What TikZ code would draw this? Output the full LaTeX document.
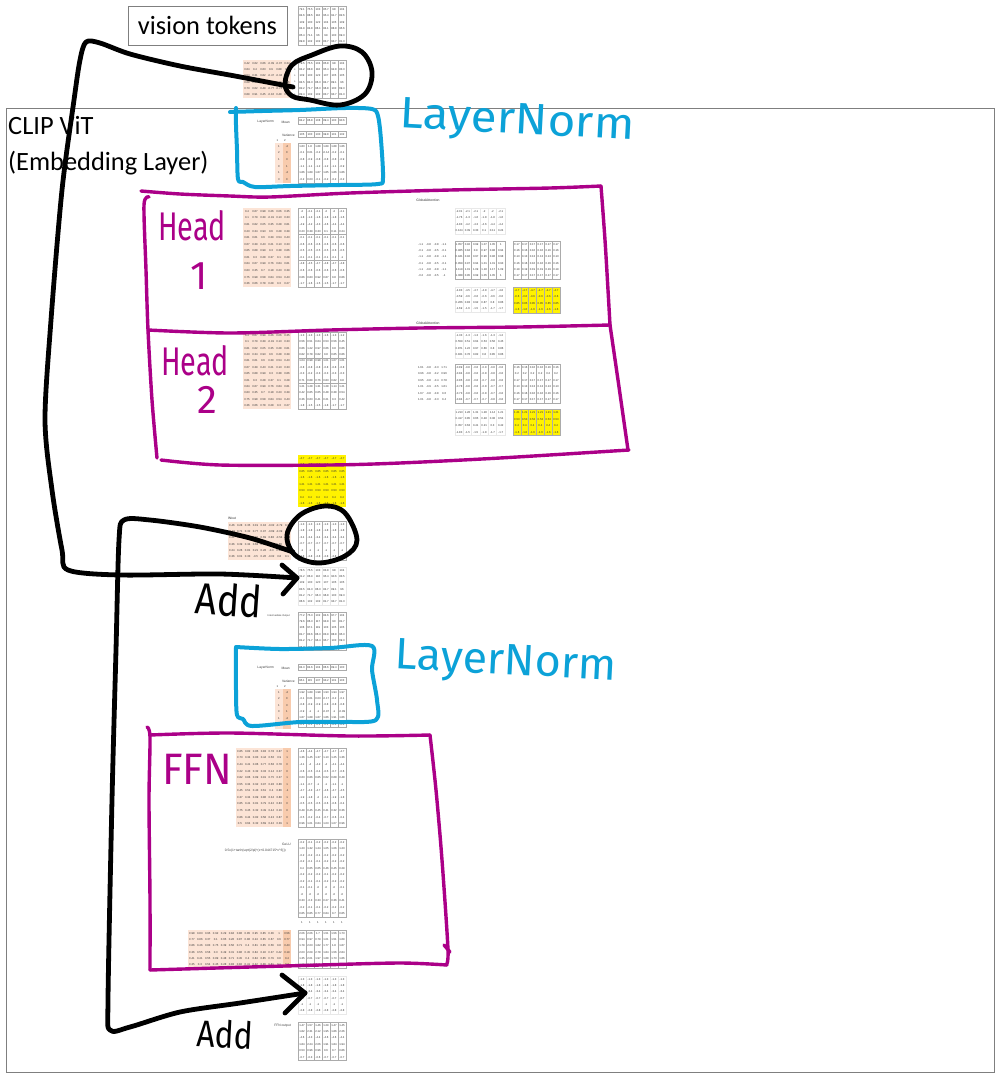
\documentclass[tikz,border=0pt]{standalone}
\usepackage{fontspec}
\setmainfont{Carlito}
\newfontfamily\cellfam{Liberation Sans}
\newfontfamily\handfam{Fira Sans}
\usetikzlibrary{calc}
\definecolor{inkblue}{HTML}{0CA2D8}
\definecolor{inkmag}{HTML}{AB0088}
\definecolor{orangelight}{HTML}{FCE4D6}
\definecolor{orangedark}{HTML}{F8CBAD}
\definecolor{gridgray}{HTML}{ABABAB}
\definecolor{framegray}{HTML}{7F7F7F}
\tikzset{
  cellnum/.style={inner sep=0pt,font=\cellfam\fontsize{2.8}{3}\selectfont,text=black!80},
  tinylabel/.style={inner sep=0pt,font=\cellfam\fontsize{3.3}{3.4}\selectfont,text=black!75,anchor=east},
  tablebox/.style={draw=gridgray,line width=.9pt},
  tableline/.style={draw=gridgray,line width=.55pt},
  lightline/.style={draw=gray!18,line width=.4pt},
  titlelabel/.style={inner sep=0pt,font=\fontsize{26.4}{36}\selectfont,align=left,anchor=north west,text=black},
  inkblack/.style={draw=black,line width=4.8pt,line cap=round,line join=round},
  inkthinblue/.style={draw=inkblue,line width=4pt,line cap=round,line join=round},
  inkthinmag/.style={draw=inkmag,line width=3.4pt,line cap=round,line join=round},
  handblue/.style={inner sep=0pt,text=inkblue,font=\handfam\fontsize{44}{44}\selectfont},
  handmag/.style={inner sep=0pt,text=inkmag,font=\handfam\fontsize{40}{40}\selectfont},
  handblack/.style={inner sep=0pt,text=black,font=\handfam\fontsize{44}{44}\selectfont},
}
% cells: name, x, y, column width, row height, macro holding the rows
\newcommand{\cellsat}[6]{%
  \foreach \rr [count=\ri] in #6 {%
    \foreach \vv [count=\ci] in \rr {%
      \node[cellnum,name=#1-\ri-\ci] at ({#2+(\ci-.5)*#4},{#3+(\ri-.5)*#5}) {\vv};
    }%
  }%
}
% frame: x, y, columns, rows, column width, row height
\newcommand{\gridat}[6]{%
  \draw[tablebox] (#1,#2) rectangle ({#1+#3*#5},{#2+#4*#6});
  \foreach \cc in {1,...,\numexpr#3-1\relax} {%
    \draw[tableline] ({#1+\cc*#5},#2) -- ({#1+\cc*#5},{#2+#4*#6});
  }%
}
\newcommand{\lightgridat}[6]{%
  \draw[lightline] (#1,#2) rectangle ({#1+#3*#5},{#2+#4*#6});
  \foreach \cc in {1,...,\numexpr#3-1\relax} {%
    \draw[lightline] ({#1+\cc*#5},#2) -- ({#1+\cc*#5},{#2+#4*#6});
  }%
}
\def\dVis{{79.1,75.5,103,85.7,98,104},{84.6,88.5,118,95.4,91.7,82.6},{109,100,122,104,105,109},{84.9,84.8,86.1,84.1,88.8,95.6},{85.4,71.1,96,99,100,69.3},{89.8,102,102,83.7,93.7,81.3}}
\def\dPos{{79.5,75.5,104,85.8,98,104},{84.2,88.8,118,95.4,92.8,83.3},{109,100,122,107,105,105},{84.5,84.3,86.3,84.7,89.1,96},{82.2,71.7,96.3,96.8,100,69.3},{89.4,102,102,83.7,93.7,81.3}}
\def\dOrA{{0.42,0.62,0.66,-0.09,-0.07,0.34},{0.84,0.4,0.63,0.9,0.88,0.1},{0.54,0.31,0.82,-0.47,-0.34,0.33},{0.69,0.46,0.66,0.61,0.19,0.86},{0.73,0.62,0.49,-0.77,-0.73,0.46},{0.89,0.91,0.45,-0.16,0.48,0.13}}
\def\dNorm{{1.83,1.8,1.88,1.89,1.88,1.86},{-0.1,0.01,-0.2,-0.14,-0.2,-0.1},{-0.8,-0.9,-0.8,-0.8,-0.8,-0.9},{-1.1,-1.1,-1.2,-1.2,-1.1,-0.9},{1.86,1.89,1.87,1.85,1.86,1.86},{-0.2,0.03,-0.1,-0.2,-0.2,-0.2}}
\def\dPair{{1,-2},{2,0},{1,3},{0,1},{1,-2},{3,0}}
\def\dHeadO{{0.4,0.67,0.98,0.26,0.06,0.35},{0.1,0.79,0.39,-0.91,0.13,0.33},{0.81,0.82,0.05,0.35,0.28,0.81},{0.23,0.34,0.93,0.6,0.28,0.39},{0.81,0.61,0.6,0.39,0.54,0.43},{0.67,0.39,0.43,0.21,0.13,0.33},{0.85,0.88,0.99,0.3,0.38,0.86},{0.61,0.3,0.28,0.37,0.1,0.28},{0.84,0.67,0.99,0.76,0.84,0.81},{0.83,0.35,0.7,0.18,0.23,0.39},{0.75,0.98,0.58,0.84,0.54,0.43},{0.36,0.66,0.78,0.28,0.3,0.27}}
\def\dHeadT{{-2,-2.1,-2.1,-2,-2,-2.1},{-1.8,-1.3,-1.6,-1.8,-1.8,-1.6},{-4.9,-4.2,-4.3,-4.6,-4.4,-4.4},{0.23,0.39,0.33,0.1,0.11,0.24},{-0.1,-0.1,-0.1,-0.1,-0.1,-0.1},{-0.6,-0.6,-0.6,-0.6,-0.6,-0.6},{-0.5,-0.5,-0.5,-0.5,-0.6,-0.5},{-0.1,-0.1,-0.1,-0.1,-0.1,-1},{-4.8,-4.5,-4.7,-4.8,-4.7,-4.8},{-0.6,-0.6,-0.6,-0.6,-0.6,-0.6},{0.86,0.83,0.92,0.87,0.8,0.86},{-1.7,-1.6,-1.5,-1.5,-1.7,-1.7}}
\def\dHeadU{{-1.3,-1.3,-1.3,-1.6,-1.3,-1.2},{0.56,0.51,0.64,0.53,0.56,0.45},{0.86,1.22,0.97,0.66,0.8,0.86},{0.82,0.78,0.82,0.8,0.85,0.86},{1.04,0.98,0.98,1.01,1.07,1.01},{-0.8,-0.8,-0.8,-0.8,-0.8,-0.8},{-0.3,-0.2,-0.3,-0.3,-0.3,-0.3},{0.71,0.88,0.76,0.83,0.82,0.8},{1.21,1.28,1.31,1.28,1.14,1.21},{0.42,0.85,0.65,0.48,0.38,0.54},{0.36,0.63,0.41,0.21,0.3,0.42},{-1.8,-1.5,-1.5,-1.8,-1.7,-1.7}}
\def\dLeftA{{-1.1,-0.8,-0.8,-1.1},{-0.1,-0.8,-0.5,-0.1},{-1.1,-0.8,-0.8,-1.1},{-0.1,-0.8,-0.5,-0.1},{-1.1,-0.8,-0.8,-1.1},{-0.2,-0.8,-0.5,-1}}
\def\dLeftB{{1.61,-0.8,-0.3,1.71},{0.96,-0.8,-0.2,0.96},{0.95,-0.8,-0.4,0.78},{1.01,-0.9,-0.5,1.61},{1.67,-0.8,-0.8,0.6},{1.01,-0.8,-0.3,0.4}}
\def\dMidA{{1.057,0.92,0.99,1.07,1.05,1},{0.985,0.84,0.9,0.97,0.98,0.94},{0.941,0.92,0.97,0.96,0.96,0.98},{0.959,0.97,0.94,1.01,1.01,0.93},{1.119,1.01,1.09,1.18,1.17,1.09},{1.088,0.95,0.99,1.05,1.05,1}}
\def\dMidB{{-0.89,-0.8,-0.8,-0.8,-0.8,-0.8},{-0.84,-0.8,-0.8,-0.8,-0.8,-0.8},{-0.85,-0.8,-0.8,-0.7,-0.8,-0.8},{-0.78,-0.8,-0.8,-0.8,-0.7,-0.7},{-0.73,-0.8,-0.8,-0.8,-0.7,-0.8},{-0.84,-0.7,-0.7,-0.7,-0.8,-0.8}}
\def\dRightA{{0.17,0.17,0.17,0.17,0.17,0.17},{0.16,0.16,0.16,0.16,0.16,0.16},{0.13,0.13,0.13,0.13,0.13,0.13},{0.16,0.16,0.16,0.16,0.16,0.16},{0.19,0.19,0.19,0.19,0.19,0.19},{0.17,0.17,0.17,0.17,0.17,0.17}}
\def\dRightB{{0.16,0.16,0.16,0.16,0.16,0.16},{0.2,0.2,0.2,0.2,0.2,0.2},{0.17,0.17,0.17,0.17,0.17,0.17},{0.13,0.13,0.13,0.13,0.13,0.13},{0.16,0.16,0.16,0.16,0.16,0.16},{0.17,0.17,0.17,0.17,0.17,0.17}}
\def\dTopA{{-2.01,-2.1,-2.1,-2,-2,-2.1},{-1.76,-1.3,-1.6,-1.8,-1.8,-1.6},{-4.83,-4.2,-4.3,-4.6,-4.4,-4.4},{0.124,0.39,0.33,0.1,0.11,0.24}}
\def\dLowA{{-4.83,-4.5,-4.7,-4.8,-4.7,-4.8},{-0.59,-0.6,-0.6,-0.6,-0.6,-0.6},{0.266,0.83,0.92,0.87,0.8,0.86},{-1.69,-1.6,-1.5,-1.5,-1.7,-1.7}}
\def\dTopB{{-1.33,-1.3,-1.3,-1.6,-1.3,-1.2},{0.559,0.51,0.64,0.53,0.56,0.45},{0.871,1.22,0.97,0.66,0.8,0.86},{0.821,0.78,0.82,0.8,0.85,0.86}}
\def\dLowB{{1.213,1.28,1.31,1.28,1.14,1.21},{0.417,0.85,0.65,0.48,0.38,0.54},{0.357,0.63,0.41,0.21,0.3,0.42},{-1.83,-1.5,-1.5,-1.8,-1.7,-1.7}}
\def\dYelA{{-4.7,-4.7,-4.7,-4.7,-4.7,-4.7},{-0.6,-0.6,-0.6,-0.6,-0.6,-0.6},{0.85,0.85,0.85,0.85,0.85,0.85},{-1.6,-1.6,-1.6,-1.6,-1.6,-1.6}}
\def\dYelB{{1.21,1.21,1.21,1.21,1.21,1.21},{0.53,0.53,0.53,0.53,0.53,0.53},{0.4,0.4,0.4,0.4,0.4,0.4},{-1.6,-1.6,-1.6,-1.6,-1.6,-1.6}}
\def\dYelAll{{-4.7,-4.7,-4.7,-4.7,-4.7,-4.7},{-0.6,-0.6,-0.6,-0.6,-0.6,-0.6},{0.85,0.85,0.85,0.85,0.85,0.85},{-1.6,-1.6,-1.6,-1.6,-1.6,-1.6},{1.21,1.21,1.21,1.21,1.21,1.21},{0.53,0.53,0.53,0.53,0.53,0.53},{0.4,0.4,0.4,0.4,0.4,0.4},{-1.6,-1.6,-1.6,-1.6,-1.6,-1.6}}
\def\dWout{{0.46,0.28,0.35,0.19,0.18,-0.02,-0.79,0.1},{-0.81,0.71,0.32,0.77,0.97,-0.69,-0.09,0.5},{0.21,0.58,0.91,0.15,0.69,0.88,-0.54,-0.78},{0.36,0.39,0.34,0.63,0.53,-0.38,0.88,0.2},{0.24,0.26,0.81,0.21,0.28,-0.3,0.88,0.4},{0.36,0.01,0.33,-0.5,0.26,-0.02,0.8,0.1}}
\def\dWoutT{{-1.3,-1.3,-1.3,-1.3,-1.3,-1.3},{-1.8,-1.8,-1.8,-1.8,-1.8,-1.8},{-3.4,-3.4,-3.4,-3.4,-3.4,-3.4},{-0.7,-0.7,-0.7,-0.7,-0.7,-0.7},{-1,-1,-1,-1,-1,-1},{-2.8,-2.8,-2.8,-2.8,-2.8,-2.8}}
\def\dAdded{{78.5,75.5,103,83.8,98,104},{81.2,86.9,116,95.4,90.6,83.5},{109,100,120,107,105,105},{83.5,84.3,86.3,84.7,89.1,96},{81.2,71.7,96.3,96.8,100,69.3},{86.6,102,102,81.7,93.7,81.3}}
\def\dInter{{77.2,75.3,102,84.6,97.7,104},{79.6,86.3,117,93.8,90,81.7},{106,97.1,119,103,105,105},{81.7,83.6,86.3,83.9,88.8,95.3},{81.2,71.7,96.4,95.7,100,69.3},{85.3,102,102,81.7,93.7,81.3}}
\def\dNormB{{1.92,1.89,1.98,1.93,1.94,1.97},{-0.1,0.01,0.03,-0.17,-0.2,-0.1},{-0.8,-0.9,-0.9,-0.8,-0.8,-0.8},{-0.9,-1,-1,-0.97,-1,-0.99},{1.87,1.88,1.87,1.86,1.91,1.86},{-0.1,-0.1,-0.1,-0.1,-0.1,-0.1}}
\def\dFfnO{{0.85,0.82,0.85,0.83,0.78,0.87,1},{0.73,0.34,0.83,0.44,0.56,0.9,1},{0.44,0.41,0.86,0.77,0.58,0.78,0},{0.22,0.43,0.32,0.33,0.14,0.37,0},{0.82,0.86,0.89,0.91,0.75,0.37,1},{0.55,0.34,0.92,0.97,0.28,0.86,1},{0.45,0.51,0.43,0.61,0.4,0.86,-1},{0.37,0.34,0.89,0.86,0.34,0.88,1},{0.85,0.41,0.81,0.79,0.42,0.83,0},{0.75,0.45,0.32,0.49,0.44,0.16,0},{0.86,0.44,0.82,0.58,0.43,0.87,0},{0.5,0.64,0.32,0.69,0.42,0.39,1}}
\def\dFfnT{{-4.6,-4.4,-4.7,-4.7,-4.7,-4.7},{1.36,1.45,1.37,1.13,1.25,1.36},{-4.1,-4,-4.2,-4,-4.1,-4.4},{-0.6,-0.5,-0.4,-0.5,-0.7,-0.6},{0.63,0.86,0.85,0.62,0.68,0.48},{-1.1,-0.7,-1,-1,-1.1,-1},{-4.7,-4.3,-4.7,-4.6,-4.7,-4.5},{-1.9,-1.8,-2,-2.1,-1.9,-1.8},{-0.5,-0.5,-0.5,-0.6,-0.6,-0.4},{0.49,0.45,0.45,0.41,0.32,0.36},{-0.5,-0.2,-0.4,-0.7,-0.6,-0.4},{0.96,1.01,0.84,1.03,1.07,0.96}}
\def\dGelu{{-0.2,-0.1,-0.2,-0.2,-0.2,-0.2},{1.23,1.32,1.24,1.05,1.06,1.23},{-0.2,-0.2,-0.1,-0.2,-0.2,-0.2},{-0.2,-0.1,-0.1,-0.2,-0.2,-0.2},{0.4,0.65,0.65,0.46,0.45,0.29},{-0.2,-0.2,-0.2,-0.1,-0.2,-0.2},{-0.2,-0.1,-0.1,-0.2,-0.2,-0.2},{-0.1,-0.1,-0,-0,-0,-0.1},{-0,-0,-0,-0,-0,-0},{0.33,-0.3,0.33,0.27,0.36,0.41},{-0.2,-0.1,-0.1,-0.2,-0.2,-0.2},{0.85,0.85,0.77,0.84,0.7,0.85}}
\def\dOnes{{1,1,1,1,1,1}}
\def\dBigO{{0.98,0.83,0.95,0.92,0.29,0.84,0.86,0.85,0.95,0.85,0.36,1,0.56},{0.77,0.86,0.37,0.1,0.65,0.26,0.87,0.86,0.24,0.65,0.67,0.6,0.77},{0.86,0.46,0.83,0.75,0.39,0.56,0.71,0.4,0.81,0.85,0.56,0.8,0.43},{0.36,0.55,0.56,0.3,0.49,0.31,0.86,0.45,0.84,0.18,0.37,0.42,0.19},{0.41,0.41,0.55,0.89,0.48,0.71,0.45,0.4,0.84,0.85,0.79,0.8,0.4},{0.35,0.3,0.54,0.45,0.28,0.83,0.82,0.41,0.42,0.36,0.81,0.1,0.3}}
\def\dBigT{{2.06,2.06,1.7,1.51,1.56,1.73},{0.94,0.97,0.79,1.01,1.51,1.69},{1.79,2.03,1.82,1.77,1.8,1.87},{2.03,2.09,2.78,1.84,1.56,2.84},{1.35,2.01,1.97,1.88,1.73,1.86},{1.01,1.12,1.3,1.4,1.5,1.6}}
\def\dFinalT{{1.47,1.57,1.46,1.29,1.47,1.45},{1.82,2.31,2.12,1.95,1.86,2.26},{-4.6,-4.3,-4.4,-4.6,-4.6,-4.4},{1.84,2.24,2.06,1.91,1.84,1.94},{0.53,0.96,0.96,0.6,0.7,0.86},{-0.7,-0.3,-0.6,-0.7,-0.7,-0.7}}
\def\dMeanA{{84.2,86.8,108,89.4,100,90.6}}
\def\dVarA{{105,100,130,99.8,101,132}}
\def\dMeanB{{84.3,84.6,104,86.6,89.4,100}}
\def\dVarB{{95.1,115,137,93.2,101,103}}
\begin{document}
\begin{tikzpicture}[x=1pt,y=-1pt]
\useasboundingbox (0,0) rectangle (1000,1080);
\fill[white] (0,0) rectangle (1000,1080);
% frame and titles
\draw[draw=framegray,line width=.9pt] (6.5,108.5) rectangle (994.5,1072);
\node[draw=framegray,line width=.9pt,fill=white,inner sep=0pt,minimum width=159pt,minimum height=39pt,font=\fontsize{26.4}{30}\selectfont] (vision) at (207.5,25.5) {vision tokens};
\node[titlelabel] (clip) at (8,116) {CLIP ViT\\(Embedding Layer)};
% vision tokens
\gridat{298}{6}{6}{6}{8}{6.5}
\cellsat{va}{298}{6}{8}{6.5}{\dVis}
\fill[orangelight] (243,60) rectangle (291,98);
\cellsat{vo}{243}{60}{8}{6.33}{\dOrA}
\foreach \yy in {63,69.5,76,82,88.5,95} {\node[cellnum] at (295,\yy) {+};}
\gridat{298}{60}{6}{6}{8}{6.33}
\cellsat{vb}{298}{60}{8}{6.33}{\dPos}
% layernorm 1
\node[tinylabel] (lnA) at (274,122) {LayerNorm};
\node[tinylabel] (mnA) at (290,122) {Mean};
\node[tinylabel] (vrA) at (295,135) {Variance};
\gridat{298}{117}{6}{1}{8}{7}
\cellsat{ma}{298}{117}{8}{7}{\dMeanA}
\gridat{298}{131}{6}{1}{8}{6.5}
\cellsat{mb}{298}{131}{8}{6.5}{\dVarA}
\node[cellnum] at (277.5,141) {1};\node[cellnum] at (285,141) {2};
\fill[orangelight] (275,143) rectangle (283,183);
\fill[orangedark] (283,143) rectangle (291,183);
\cellsat{pa}{275}{143}{8}{6.67}{\dPair}
\gridat{298}{143}{6}{6}{8}{6.67}
\cellsat{na}{298}{143}{8}{6.67}{\dNorm}
% head 1
\node[cellnum] (gaA) at (428,200) {\fontsize{3.4}{3.4}\selectfont GlobalAttention};
\fill[orangelight] (243,208) rectangle (291,287);
\cellsat{ha}{243}{208}{8}{6.58}{\dHeadO}
\gridat{298}{208}{6}{12}{8}{6.58}
\draw[tableline] (298,234.3) -- (346,234.3) (298,260.7) -- (346,260.7);
\cellsat{hb}{298}{208}{8}{6.58}{\dHeadT}
\lightgridat{455}{208}{6}{4}{8.33}{6.5}
\cellsat{hc}{455}{208}{8.33}{6.5}{\dTopA}
\cellsat{hd}{417}{241}{7.75}{6.33}{\dLeftA}
\gridat{455}{241}{6}{6}{8.33}{6.33}
\cellsat{he}{455}{241}{8.33}{6.33}{\dMidA}
\gridat{513}{241}{6}{6}{7.83}{6.33}
\cellsat{hf}{513}{241}{7.83}{6.33}{\dRightA}
\lightgridat{455}{287}{6}{4}{8.33}{6.25}
\cellsat{hg}{455}{287}{8.33}{6.25}{\dLowA}
\fill[yellow] (513,287) rectangle (560,313);
\gridat{513}{287}{6}{4}{7.83}{6.5}
\cellsat{hh}{513}{287}{7.83}{6.5}{\dYelA}
% head 2
\node[cellnum] (gaB) at (428,323) {\fontsize{3.4}{3.4}\selectfont GlobalAttention};
\fill[orangelight] (243,332) rectangle (291,409);
\cellsat{ia}{243}{332}{8}{6.42}{\dHeadO}
\gridat{298}{332}{6}{12}{8}{6.42}
\draw[tableline] (298,358) -- (346,358) (298,383) -- (346,383);
\cellsat{ib}{298}{332}{8}{6.42}{\dHeadU}
\lightgridat{455}{332}{6}{4}{8.33}{6.5}
\cellsat{ic}{455}{332}{8.33}{6.5}{\dTopB}
\cellsat{id}{417}{364}{7.75}{6.5}{\dLeftB}
\gridat{455}{364}{6}{6}{8.33}{6.5}
\cellsat{ie}{455}{364}{8.33}{6.5}{\dMidB}
\gridat{513}{364}{6}{6}{7.83}{6.5}
\cellsat{if}{513}{364}{7.83}{6.5}{\dRightB}
\lightgridat{455}{409}{6}{4}{8.33}{6.6}
\cellsat{ig}{455}{409}{8.33}{6.6}{\dLowB}
\fill[yellow] (513,409) rectangle (560,436);
\gridat{513}{409}{6}{4}{7.83}{6.7}
\cellsat{ih}{513}{409}{7.83}{6.7}{\dYelB}
% combined yellow
\fill[yellow] (298,455) rectangle (346,507);
\cellsat{ya}{298}{455}{8}{6.5}{\dYelAll}
% wout and add
\node[cellnum] (wout) at (232,518) {\fontsize{3.4}{3.4}\selectfont Wout};
\fill[orangelight] (228,522) rectangle (291,560);
\cellsat{wa}{228}{522}{7.88}{6.33}{\dWout}
\gridat{298}{521}{6}{6}{8}{6.5}
\cellsat{wb}{298}{521}{8}{6.5}{\dWoutT}
\lightgridat{298}{567}{6}{6}{8}{6.33}
\cellsat{wc}{298}{567}{8}{6.33}{\dAdded}
\node[tinylabel,font=\cellfam\fontsize{2.5}{3}\selectfont] (inter) at (290,616) {Intermediate Output};
\gridat{298}{612}{6}{6}{8}{6.4}
\cellsat{wd}{298}{612}{8}{6.4}{\dInter}
% layernorm 2
\node[tinylabel] (lnB) at (274,668) {LayerNorm};
\node[tinylabel] (mnB) at (290,668) {Mean};
\node[tinylabel] (vrB) at (295,681) {Variance};
\gridat{298}{664}{6}{1}{8}{6.5}
\cellsat{mc}{298}{664}{8}{6.5}{\dMeanB}
\gridat{298}{677}{6}{1}{8}{6.5}
\cellsat{md}{298}{677}{8}{6.5}{\dVarB}
\node[cellnum] at (277.5,687) {1};\node[cellnum] at (285,687) {2};
\fill[orangelight] (275,689) rectangle (283,729);
\fill[orangedark] (283,689) rectangle (291,729);
\cellsat{pb}{275}{689}{8}{6.5}{\dPair}
\gridat{298}{689}{6}{6}{8}{6.4}
\cellsat{nb}{298}{689}{8}{6.4}{\dNormB}
% ffn
\fill[orangelight] (236,748) rectangle (283,827);
\fill[orangedark] (283,748) rectangle (291,827);
\cellsat{fa}{236}{748}{7.86}{6.58}{\dFfnO}
\gridat{298}{748}{6}{12}{8}{6.58}
\cellsat{fb}{298}{748}{8}{6.58}{\dFfnT}
\node[tinylabel] (gelu) at (291,844) {GeLU};
\node[tinylabel] (formula) at (286,850.5) {0.5x(1+tanh(sqrt(2/pi)*(x+0.044715*x\textasciicircum 3)))};
\gridat{298}{839}{6}{12}{8}{6.5}
\cellsat{fc}{298}{839}{8}{6.5}{\dGelu}
\cellsat{fd}{298}{919}{8}{6.5}{\dOnes}
\fill[orangelight] (188,930) rectangle (283,968);
\fill[orangedark] (283,930) rectangle (291,968);
\cellsat{fe}{188}{930}{7.92}{6.33}{\dBigO}
\gridat{298}{930}{6}{6}{8}{6.33}
\cellsat{ff}{298}{930}{8}{6.33}{\dBigT}
\lightgridat{298}{976}{6}{6}{8}{6.33}
\cellsat{fg}{298}{976}{8}{6.33}{\dWoutT}
\node[tinylabel] (ffnout) at (291,1026) {FFN output};
\gridat{298}{1022}{6}{6}{8}{6.4}
\cellsat{fh}{298}{1022}{8}{6.4}{\dFinalT}
% blue boxes
\draw[inkthinblue] plot[smooth,tension=.5] coordinates {(230,112) (262,111) (300,110) (345,108) (372,109) (378,116) (381,140) (383,178) (378,184) (340,185) (290,186) (255,187) (243,182) (238,179) (237,150) (236,125) (236,108)};
\draw[inkthinblue] plot[smooth,tension=.5] coordinates {(236,647) (280,649) (330,648) (372,646) (372,670) (377,700) (376,720) (345,722) (300,722) (252,726) (243,719) (237,715) (236,690) (236,647)};
% magenta boxes
\draw[inkthinmag] plot[smooth,tension=.5] coordinates {(141,191) (180,194) (230,196) (270,197) (350,193) (450,190) (550,188) (601,186)};
\draw[inkthinmag] plot[smooth,tension=.5] coordinates {(601,186) (605,240) (608,290) (610,325)};
\draw[inkthinmag] plot[smooth,tension=.5] coordinates {(149,197) (144,205) (146,270) (148,330) (152,400) (157,458)};
\draw[inkthinmag] plot[smooth,tension=.5] coordinates {(148,330) (230,333) (330,330) (420,328) (520,327) (610,325)};
\draw[inkthinmag] plot[smooth,tension=.5] coordinates {(610,325) (618,380) (628,450)};
\draw[inkthinmag] plot[smooth,tension=.5] coordinates {(161,460) (220,465) (330,465) (400,463) (500,458) (629,450)};
\draw[inkthinmag] plot[smooth,tension=.5] coordinates {(147,727) (150,737) (149,800) (150,900) (150,970)};
\draw[inkthinmag] plot[smooth,tension=.5] coordinates {(150,735) (230,733) (350,736) (430,735)};
\draw[inkthinmag] plot[smooth,tension=.5] coordinates {(430,735) (436,790) (442,860) (448,950) (446,965)};
\draw[inkthinmag] plot[smooth,tension=.5] coordinates {(150,970) (250,967) (320,965) (400,963) (447,965)};
\draw[inkthinmag] plot coordinates {(444,945) (450,952)};
% black strokes: loops and arrows
\coordinate (loopA) at (293,87);
\coordinate (tipA) at (297,578);
\coordinate (loopB) at (293,552);
\coordinate (tipB) at (305,993);
\draw[inkblack] plot[smooth,tension=.5] coordinates {(loopA) (235,76) (180,66) (130,54) (100,43) (86,42) (80,60) (74,100) (62,190) (51,320) (45,420) (52,490) (62,550) (68,570) (120,575) (220,574) (tipA)};
\draw[inkblack] plot coordinates {(282,565) (tipA) (283,594)};
\draw[inkblack] plot[smooth,tension=.5] coordinates {(loopB) (250,538) (200,527) (150,520) (124,520) (119,540) (116,650) (112,800) (108,1000) (110,1030) (130,1027) (180,1012) (240,1003) (tipB)};
\draw[inkblack] plot coordinates {(282,975) (tipB) (285,1013)};
\draw[inkblack] plot[smooth cycle,tension=.6] coordinates {(285,84) (292,65) (312,55) (340,46) (362,52) (372,72) (365,94) (340,105) (310,100) (292,96)};
\draw[inkblack] plot[smooth cycle,tension=.6] coordinates {(287,535) (300,515) (325,506) (345,513) (357,540) (345,556) (318,563) (295,555)};
% handwriting
\node[handblue,rotate=-3] (hwA) at (517,123) {\scalebox{1.08}[1]{LayerNorm}};
\node[handblue,rotate=-3] (hwB) at (506,664) {\scalebox{1.02}[1]{LayerNorm}};
\node[handmag] (hwC) at (192,226) {\scalebox{.72}[1]{Head}};
\node[handmag] (hwD) at (199,276) {1};
\node[handmag] (hwE) at (195,361) {\scalebox{.72}[1]{Head}};
\node[handmag] (hwF) at (207,400) {2};
\node[handmag] (hwG) at (197,769) {\scalebox{1.05}[1.1]{FFN}};
\node[handblack,rotate=-4] (hwH) at (229,600) {\scalebox{.85}[1]{Add}};
\node[handblack,rotate=-3] (hwI) at (225,1034) {\scalebox{.72}[.85]{Add}};
\end{tikzpicture}
\end{document}
